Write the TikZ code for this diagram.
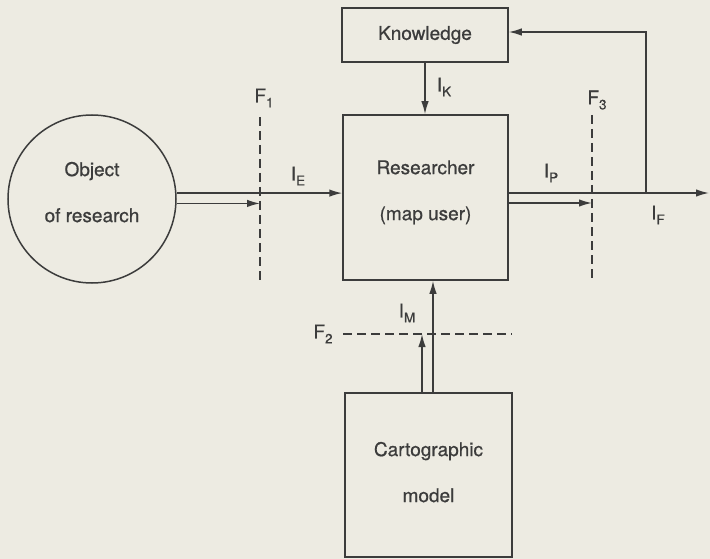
\documentclass[tikz,border=0pt]{standalone}
\usepackage{fontspec}
\setmainfont{TeX Gyre Heros}[FakeBold=0.7]
\usetikzlibrary{arrows.meta}
\definecolor{paper}{HTML}{EDEBE2}
\definecolor{ink}{HTML}{3C3C3C}
% letter with a lowered, smaller index
\newcommand\subl[2]{#1\raisebox{-0.5ex}{\fontsize{13.5}{13.5}\selectfont #2}}

\begin{document}
\begin{tikzpicture}[x=1pt,y=-1pt,
  every node/.style={text=ink, font=\fontsize{19}{46}\selectfont},
  wire/.style={draw=ink, line width=1.5pt},
  arr/.style={wire, -{Latex[length=13pt,width=7.5pt]}},
  fence/.style={draw=ink, line width=1.5pt, dash pattern=on 9pt off 5pt},
  box/.style={wire, rectangle, align=center, inner sep=0pt},
  lbl/.style={inner sep=0pt}]
\fill[paper] (0,0) rectangle (710,559);
\useasboundingbox (0,0) rectangle (710,559);

% blocks
\node[wire, circle, minimum size=168pt, align=center, inner sep=0pt, text depth=14pt] (obj) at (92,199) {Object\\of research};
\node[box, minimum width=165pt, minimum height=165pt, text depth=14.5pt] (res) at (425.5,197.5) {Researcher\\(map user)};
\node[box, minimum width=166pt, minimum height=54pt] (know) at (425,35) {Knowledge};
\node[box, minimum width=167pt, minimum height=164pt, text depth=6pt] (cart) at (428.5,475) {Cartographic\\model};

% filters
\coordinate (f1t) at (260,117); \coordinate (f1b) at (260,283);
\coordinate (f3t) at (592,115); \coordinate (f3b) at (592,280);
\coordinate (f2l) at (343,334); \coordinate (f2r) at (512,334);
\draw[fence] (f1t) -- (f1b);
\draw[fence] (f3t) -- (f3b);
\draw[fence] (f2l) -- (f2r);

% flows
\coordinate (out) at (709,193);
\coordinate (fork) at (646,193);
\draw[arr] (obj.4) -- (obj.4 -| res.west);
\draw[arr] (obj.-3) -- (obj.-3 -| f1t);
\draw[arr] ([yshift=4.5pt]res.east) -- (out);
\draw[arr] (fork) |- ([yshift=3pt]know.east);
\draw[arr] ([yshift=-5.5pt]res.east) -- ([yshift=-5.5pt]res.east -| f3t);
\draw[arr] (know.south) -- (know.south |- res.north);
\draw[arr] ([xshift=4.5pt]cart.north) -- ([xshift=4.5pt]cart.north |- res.south);
\draw[arr] ([xshift=-6.5pt]cart.north) -- ([xshift=-6.5pt]cart.north |- f2l);

% labels
\node[lbl] (fa) at (264,98) {\subl{F}{1}};
\node[lbl] (fb) at (323,334) {\subl{F}{2}};
\node[lbl] (fc) at (597,100) {\subl{F}{3}};
\node[lbl] (ie) at (298,176) {\subl{I}{E}};
\node[lbl] (ik) at (444,87) {\subl{I}{K}};
\node[lbl] (ip) at (551,173) {\subl{I}{P}};
\node[lbl] (if) at (658,215) {\subl{I}{F}};
\node[lbl] (im) at (407,313) {\subl{I}{M}};
\end{tikzpicture}
\end{document}
